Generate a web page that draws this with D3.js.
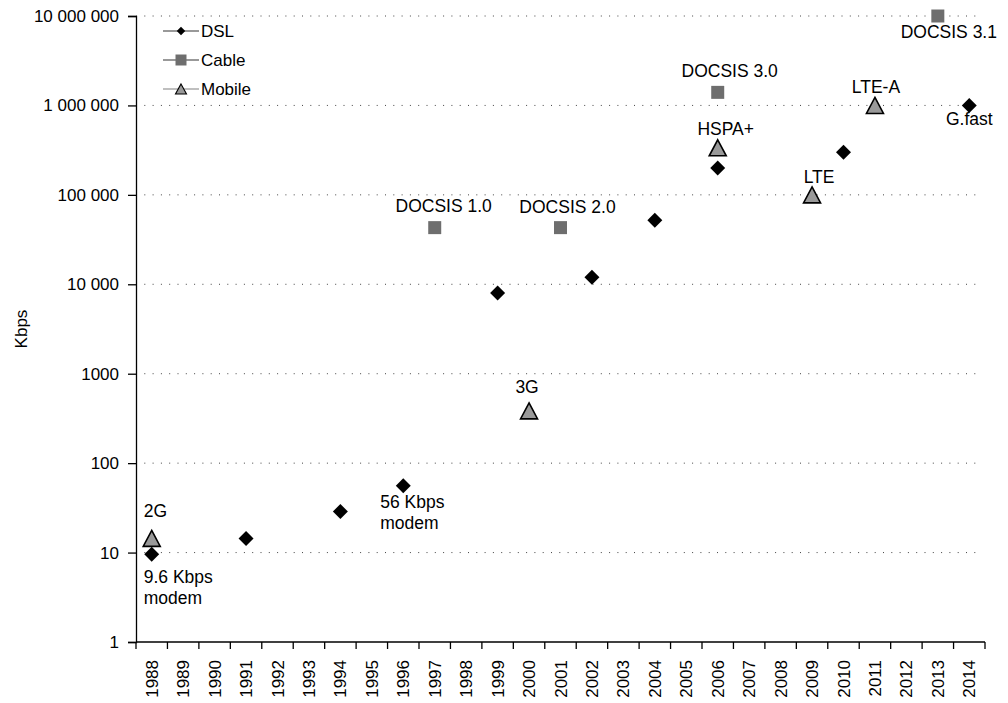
<!DOCTYPE html>
<html>
<head>
<meta charset="utf-8">
<script src="https://cdn.jsdelivr.net/npm/d3@7"></script>
<style>
  html, body { margin: 0; padding: 0; background: #fff; }
  svg { display: block; font-family: "Liberation Sans", Arial, sans-serif; }
</style>
</head>
<body>
<svg id="chart" width="1008" height="703"></svg>
<script>
// Access technology peak speeds (Kbps) by year of introduction
const years = d3.range(1988, 2015).map(String);

const dslYears   = ["1988", "1991", "1994", "1996", "1999", "2002", "2004", "2006", "2010", "2014"];
const dslValues  = [9.6, 14.4, 28.8, 56, 8000, 12000, 52000, 200000, 300000, 1000000];

const cableYears  = ["1997", "2001", "2006", "2013"];
const cableValues = [43000, 43000, 1400000, 10000000];

const mobileYears  = ["1988", "2000", "2006", "2009", "2011"];
const mobileValues = [14.4, 384, 336000, 100000, 1000000];

const yTickValues = [1, 10, 100, 1000, 10000, 100000, 1000000, 10000000];

// Milestone captions: series, year, text lines
const noteSeries = ["Mobile", "DSL", "DSL", "Cable", "Cable", "Mobile", "Cable", "Mobile", "Mobile", "Mobile", "Cable", "DSL"];
const noteYears  = ["1988", "1988", "1996", "1997", "2001", "2000", "2006", "2006", "2009", "2011", "2013", "2014"];
const noteTexts  = [["2G"], ["9.6 Kbps", "modem"], ["56 Kbps", "modem"], ["DOCSIS 1.0"], ["DOCSIS 2.0"], ["3G"],
                    ["DOCSIS 3.0"], ["HSPA+"], ["LTE"], ["LTE-A"], ["DOCSIS 3.1"], ["G.fast"]];

// caption placement relative to the marker: [anchor, dx, dy of first baseline]
const notePlacement = [
  ["start", -8, -21], ["start", -8, 29], ["start", -23, 22], ["middle", 9, -16], ["middle", 7, -15], ["middle", -2, -18],
  ["middle", 12, -15], ["middle", 8, -13], ["middle", 7, -12], ["middle", 1, -12], ["middle", 11, 22], ["middle", 0, 20]
];

const svg = d3.select("#chart");
const margin = { left: 136, right: 23, top: 16, bottom: 61 };
const W = 1008, H = 703;

const x = d3.scaleBand().domain(years).range([margin.left, W - margin.right]).padding(0);
const y = d3.scaleLog().domain([1, 10000000]).range([H - margin.bottom, margin.top]);

const fmtGroup = d3.formatLocale({ decimal: ".", thousands: " ", grouping: [3], currency: ["", ""] }).format(",d");
const fmtTick = v => v >= 10000 ? fmtGroup(v) : String(v);

// dotted gridlines
svg.append("g")
  .selectAll("line")
  .data(yTickValues.filter(v => v > 1))
  .join("line")
  .attr("x1", margin.left)
  .attr("x2", W - margin.right - 8)
  .attr("y1", d => y(d))
  .attr("y2", d => y(d))
  .attr("stroke", "#444")
  .attr("stroke-width", 1)
  .attr("stroke-dasharray", "1,7.3");

// y axis
const yAxis = svg.append("g")
  .attr("transform", `translate(${margin.left},0)`)
  .call(d3.axisLeft(y).tickValues(yTickValues).tickFormat(fmtTick).tickSizeOuter(0).tickSize(8).tickPadding(9));
yAxis.select(".domain").attr("stroke", "#000").attr("stroke-width", 1.3);
yAxis.selectAll(".tick line").attr("stroke", "#000").attr("stroke-width", 1.3);
yAxis.selectAll(".tick text").attr("font-size", 17).attr("fill", "#000").attr("font-family", "Liberation Sans, Arial, sans-serif");

// x axis: ticks on band boundaries, labels centred in each band
const xAxisG = svg.append("g").attr("transform", `translate(0,${H - margin.bottom})`);
xAxisG.append("line")
  .attr("x1", margin.left).attr("x2", W - margin.right)
  .attr("stroke", "#000").attr("stroke-width", 1.3);
const bounds = years.map(d => x(d)).concat([x(years[years.length - 1]) + x.bandwidth()]);
xAxisG.selectAll("line.tk")
  .data(bounds)
  .join("line")
  .attr("class", "tk")
  .attr("x1", d => d).attr("x2", d => d)
  .attr("y1", 0).attr("y2", 7)
  .attr("stroke", "#000").attr("stroke-width", 1.3);
xAxisG.selectAll("text")
  .data(years)
  .join("text")
  .attr("transform", d => `translate(${x(d) + x.bandwidth() / 2 + 6},18) rotate(-90)`)
  .attr("text-anchor", "end")
  .attr("font-size", 17)
  .attr("fill", "#000")
  .text(d => d);

// y axis title
svg.append("text")
  .attr("transform", `translate(27,329) rotate(-90)`)
  .attr("text-anchor", "middle")
  .attr("font-size", 17)
  .attr("fill", "#000")
  .text("Kbps");

// marker shapes
const diamondPath = d3.symbol().type(d3.symbolSquare).size(112)();
const squarePath = d3.symbol().type(d3.symbolSquare).size(169)();
const triPath = (w, h) => d3.line()([[0, -h / 2], [w / 2, h / 2], [-w / 2, h / 2]]) + "Z";

const cx = d => x(d) + x.bandwidth() / 2;

const series = {
  DSL: { years: dslYears, values: dslValues },
  Cable: { years: cableYears, values: cableValues },
  Mobile: { years: mobileYears, values: mobileValues }
};

const marks = svg.append("g");

marks.selectAll("path.cable")
  .data(d3.zip(cableYears, cableValues))
  .join("path")
  .attr("class", "cable")
  .attr("d", squarePath)
  .attr("transform", d => `translate(${cx(d[0])},${y(d[1])})`)
  .attr("fill", "#6e6e6e");

marks.selectAll("path.mobile")
  .data(d3.zip(mobileYears, mobileValues))
  .join("path")
  .attr("class", "mobile")
  .attr("d", triPath(17, 16))
  .attr("transform", d => `translate(${cx(d[0])},${y(d[1])})`)
  .attr("fill", "#999")
  .attr("stroke", "#000")
  .attr("stroke-width", 1.6)
  .attr("stroke-linejoin", "miter");

marks.selectAll("path.dsl")
  .data(d3.zip(dslYears, dslValues))
  .join("path")
  .attr("class", "dsl")
  .attr("d", diamondPath)
  .attr("transform", d => `translate(${cx(d[0])},${y(d[1])}) rotate(45)`)
  .attr("fill", "#000");

// milestone captions
const notes = svg.append("g").attr("font-size", 17.5).attr("fill", "#000");
noteTexts.forEach((lines, i) => {
  const s = series[noteSeries[i]];
  const v = s.values[s.years.indexOf(noteYears[i])];
  const [anchor, dx, dy] = notePlacement[i];
  const t = notes.append("text")
    .attr("text-anchor", anchor)
    .attr("x", cx(noteYears[i]) + dx)
    .attr("y", y(v) + dy);
  lines.forEach((ln, j) => {
    t.append("tspan")
      .attr("x", cx(noteYears[i]) + dx)
      .attr("dy", j === 0 ? 0 : 21)
      .text(ln);
  });
});

// legend
const legendItems = ["DSL", "Cable", "Mobile"];
const legendLine = ["#777", "#777", "#aaa"];
const legend = svg.append("g").attr("transform", "translate(163,0)");
legendItems.forEach((name, i) => {
  const g = legend.append("g").attr("transform", `translate(0,${31 + i * 29})`);
  g.append("line").attr("x1", 0).attr("x2", 36).attr("stroke", legendLine[i]).attr("stroke-width", 1.6);
  if (name === "DSL") {
    g.append("path").attr("d", d3.symbol().type(d3.symbolSquare).size(36)()).attr("transform", "translate(18,0) rotate(45)").attr("fill", "#000");
  } else if (name === "Cable") {
    g.append("path").attr("d", d3.symbol().type(d3.symbolSquare).size(121)()).attr("transform", "translate(18,0)").attr("fill", "#6e6e6e");
  } else {
    g.append("path").attr("d", triPath(11, 10)).attr("transform", "translate(18,0)").attr("fill", "#999").attr("stroke", "#000").attr("stroke-width", 1.1);
  }
  g.append("text").attr("x", 38).attr("y", 6).attr("font-size", 17).attr("fill", "#000").text(name);
});
</script>
</body>
</html>
